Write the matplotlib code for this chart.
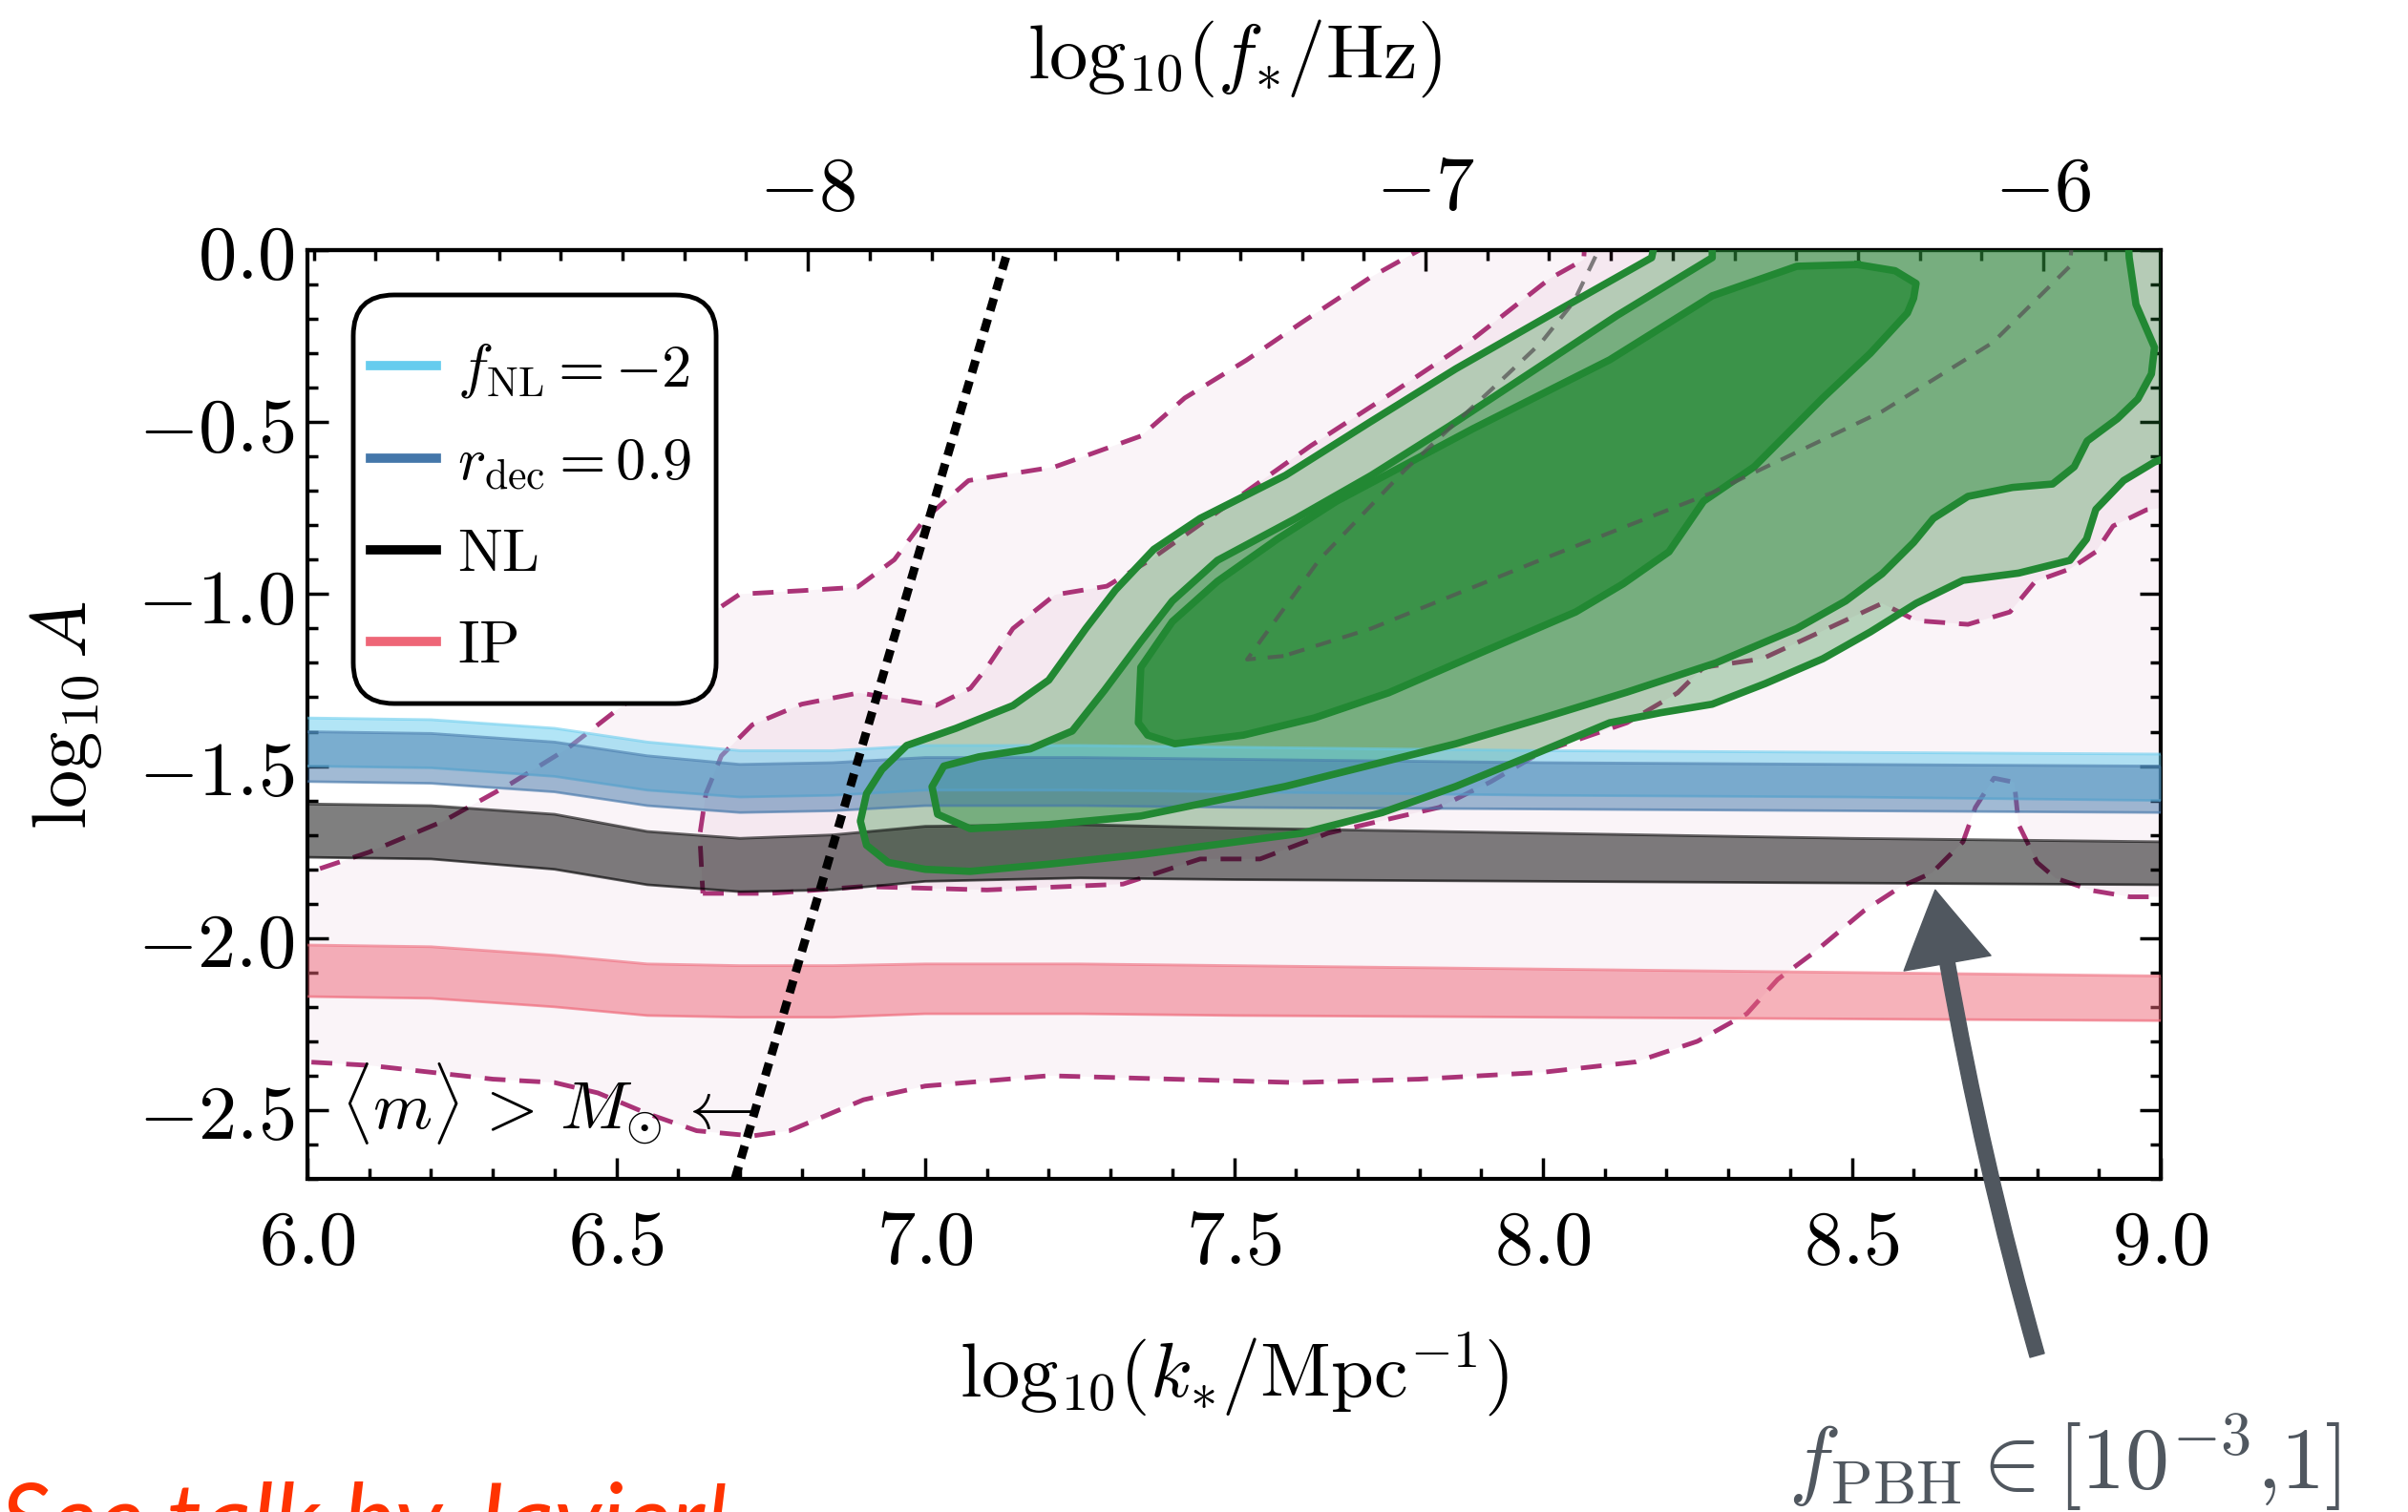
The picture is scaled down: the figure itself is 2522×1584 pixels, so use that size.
import numpy as np
import matplotlib
matplotlib.use('Agg')
import matplotlib.pyplot as plt
from matplotlib.ticker import MultipleLocator, FuncFormatter, FixedLocator
from matplotlib.patches import FancyBboxPatch
from matplotlib.lines import Line2D

plt.rcParams['mathtext.fontset'] = 'cm'
plt.rcParams['font.family'] = ['DejaVu Serif']

# ---------------- data ----------------
band_x = [6.0, 6.2, 6.4, 6.55, 6.7, 6.85, 7.0, 7.25, 7.5, 8.0, 8.5, 9.0]
fnl_hi = [-1.36, -1.365, -1.39, -1.43, -1.455, -1.455, -1.44, -1.44, -1.445, -1.455, -1.46, -1.465]
fnl_lo = [-1.50, -1.505, -1.53, -1.57, -1.59, -1.585, -1.57, -1.57, -1.575, -1.585, -1.59, -1.60]
rdec_hi = [-1.40, -1.405, -1.43, -1.47, -1.495, -1.49, -1.475, -1.475, -1.48, -1.49, -1.495, -1.50]
rdec_lo = [-1.545, -1.55, -1.575, -1.615, -1.635, -1.63, -1.615, -1.615, -1.62, -1.625, -1.63, -1.635]
nl_hi = [-1.61, -1.615, -1.64, -1.69, -1.71, -1.70, -1.675, -1.67, -1.68, -1.695, -1.71, -1.72]
nl_lo = [-1.765, -1.77, -1.80, -1.845, -1.865, -1.86, -1.835, -1.825, -1.83, -1.835, -1.84, -1.845]
ip_hi = [-2.02, -2.025, -2.05, -2.075, -2.08, -2.08, -2.075, -2.075, -2.08, -2.09, -2.10, -2.11]
ip_lo = [-2.17, -2.175, -2.20, -2.225, -2.23, -2.23, -2.22, -2.22, -2.225, -2.23, -2.235, -2.24]

# purple (dashed) posterior contours: outer and inner
p95_x = [5.95, 6.0, 6.1, 6.2, 6.3, 6.4, 6.47, 6.55, 6.63, 6.72, 6.78, 6.9, 7.0, 7.2, 7.4, 7.6, 7.8,
         8.0, 8.15, 8.25, 8.33, 8.38, 8.44, 8.52, 8.58, 8.63, 8.68, 8.70, 8.73, 8.763, 8.77, 8.80,
         8.83, 8.89, 8.95, 9.0, 9.1, 9.1, 7.80, 7.80, 7.72, 7.61, 7.52, 7.42, 7.35, 7.21, 7.07,
         7.0, 6.95, 6.89, 6.80, 6.70, 6.65, 6.60, 6.55, 6.495, 6.42, 6.33, 6.22, 6.10, 6.0, 5.95]
p95_y = [-2.36, -2.36, -2.37, -2.39, -2.41, -2.42, -2.45, -2.51, -2.56, -2.575, -2.56, -2.47, -2.43,
         -2.40, -2.41, -2.42, -2.41, -2.39, -2.36, -2.30, -2.22, -2.12, -2.04, -1.92, -1.85, -1.81,
         -1.72, -1.62, -1.535, -1.547, -1.67, -1.78, -1.826, -1.862, -1.88, -1.88, -1.88, 0.1, 0.1,
         0.0, -0.08, -0.21, -0.32, -0.43, -0.54, -0.63, -0.67, -0.78, -0.90, -0.98, -0.99, -1.0,
         -1.06, -1.18, -1.27, -1.345, -1.45, -1.55, -1.66, -1.75, -1.81, -1.81]

p68_x = [6.64, 6.75, 6.9, 7.1, 7.32, 7.445, 7.542, 7.652, 7.832, 7.915, 7.997, 8.136, 8.218, 8.26,
         8.355, 8.549, 8.604, 8.688, 8.756, 8.797, 8.853, 8.895, 8.923, 8.977, 9.0, 9.1, 9.1, 8.07,
         8.066, 8.011, 7.887, 7.762, 7.624, 7.363, 7.294, 7.21, 7.142, 7.10, 7.073, 7.017, 6.893,
         6.80, 6.72, 6.67, 6.645, 6.635, 6.64]
p68_y = [-1.87, -1.87, -1.85, -1.86, -1.843, -1.77, -1.77, -1.695, -1.62, -1.546, -1.46, -1.374,
         -1.287, -1.213, -1.188, -1.027, -1.077, -1.088, -1.052, -0.963, -0.927, -0.877, -0.802,
         -0.755, -0.75, -0.75, 0.1, 0.1, -0.028, -0.083, -0.258, -0.408, -0.569, -0.902, -0.977,
         -1.002, -1.10, -1.213, -1.274, -1.324, -1.287, -1.32, -1.38, -1.47, -1.58, -1.70, -1.87]

# green (solid) posterior contours
ga_x = [8.19, 8.176, 8.02, 7.859, 7.72, 7.583, 7.445, 7.37, 7.308, 7.26, 7.20, 7.142, 7.05, 6.97,
        6.93, 6.905, 6.895, 6.905, 6.94, 7.00, 7.073, 7.20, 7.349, 7.610, 7.74, 7.859, 7.98, 8.108,
        8.19, 8.274, 8.36, 8.453, 8.53, 8.604, 8.68, 8.770, 8.853, 8.88, 8.895, 8.94, 8.99, 9.1, 9.1]
ga_y = [0.1, -0.022, -0.18, -0.345, -0.50, -0.655, -0.780, -0.87, -0.988, -1.10, -1.25, -1.324,
        -1.39, -1.44, -1.51, -1.58, -1.66, -1.73, -1.78, -1.80, -1.806, -1.785, -1.757, -1.695,
        -1.635, -1.559, -1.47, -1.374, -1.345, -1.32, -1.26, -1.188, -1.11, -1.027, -0.96, -0.939,
        -0.902, -0.84, -0.754, -0.67, -0.616, -0.55, 0.1]
gb_x = [8.274, 8.274, 8.12, 7.969, 7.85, 7.722, 7.60, 7.473, 7.40, 7.349, 7.29, 7.238, 7.17, 7.087,
        7.03, 7.011, 7.02, 7.073, 7.20, 7.349, 7.583, 7.859, 8.0, 8.136, 8.28, 8.411, 8.49, 8.549,
        8.60, 8.632, 8.688, 8.76, 8.825, 8.86, 8.881, 8.93, 8.963, 8.985, 8.99, 8.97, 8.96, 8.949,
        8.945]
gb_y = [0.1, -0.022, -0.19, -0.369, -0.51, -0.655, -0.78, -0.902, -1.02, -1.138, -1.28, -1.398,
        -1.45, -1.473, -1.50, -1.56, -1.64, -1.682, -1.67, -1.645, -1.559, -1.435, -1.36, -1.285,
        -1.20, -1.10, -1.02, -0.941, -0.85, -0.78, -0.716, -0.69, -0.68, -0.63, -0.555, -0.49,
        -0.433, -0.36, -0.283, -0.20, -0.158, -0.022, 0.1]
gc_x = [8.509, 8.57, 8.604, 8.60, 8.590, 8.53, 8.453, 8.342, 8.26, 8.204, 8.13, 8.053, 7.90, 7.75,
        7.63, 7.515, 7.404, 7.36, 7.345, 7.349, 7.40, 7.473, 7.57, 7.666, 7.887, 8.108, 8.274,
        8.411, 8.509]
gc_y = [-0.042, -0.06, -0.097, -0.14, -0.183, -0.30, -0.43, -0.630, -0.73, -0.877, -0.97, -1.052,
        -1.17, -1.287, -1.36, -1.41, -1.435, -1.41, -1.374, -1.213, -1.08, -0.963, -0.84, -0.73,
        -0.519, -0.319, -0.133, -0.047, -0.042]

# grey dashed contour
gd_x = [7.58, 7.521, 7.638, 7.776, 7.915, 7.997, 8.05, 8.09, 8.09, 8.86, 8.853, 8.728, 8.549, 8.274,
        7.997, 7.722, 7.58]
gd_y = [-1.18, -1.19, -0.90, -0.64, -0.408, -0.269, -0.15, 0.0, 0.1, 0.1, -0.047, -0.269, -0.469,
        -0.705, -0.90, -1.10, -1.18]

# mass bound line <m> > M_sun
mass_x = [6.692, 7.134]
mass_y = [-2.7, 0.0]

# arrow (annotation) and labels
arrow_tip = (8.635, -1.86)
arrow_tail = (8.80, -3.213)
legend_labels = [r'$f_{\mathrm{NL}} = -2$', r'$r_{\mathrm{dec}} = 0.9$', r'$\mathrm{NL}$', r'$\mathrm{IP}$']
top_ticks = [-8, -7, -6]
k_to_f_offset = 14.81

C_CYAN, C_BLUE, C_BLACK, C_RED = '#66CCEE', '#4477AA', '#000000', '#EE6677'
C_GREEN, C_PURPLE = '#228833', '#AA3377'

# ---------------- figure ----------------
fig = plt.figure(figsize=(25.22, 15.84), dpi=100)
ax = fig.add_axes([0.1277, 0.2203, 0.7696, 0.6143])
ax.set_xlim(6, 9)
ax.set_ylim(-2.7, 0)

# purple contours
ax.fill(p95_x, p95_y, color=C_PURPLE, alpha=0.05, lw=0, zorder=1)
ax.fill(p68_x, p68_y, color=C_PURPLE, alpha=0.06, lw=0, zorder=1)
ax.plot(p95_x, p95_y, color=C_PURPLE, lw=3.5, dashes=(4.5, 3), zorder=2)
ax.plot(p68_x, p68_y, color=C_PURPLE, lw=3.5, dashes=(4.5, 3), zorder=2)

# green contours
ax.fill(ga_x, ga_y, color=C_GREEN, alpha=0.30, lw=0, zorder=3)
ax.fill(gb_x, gb_y, color=C_GREEN, alpha=0.42, lw=0, zorder=3)
ax.fill(gc_x, gc_y, color=C_GREEN, alpha=0.70, lw=0, zorder=3)

# bands
for lo, hi, col, a in [(ip_lo, ip_hi, C_RED, 0.5), (nl_lo, nl_hi, C_BLACK, 0.5),
                       (fnl_lo, fnl_hi, C_CYAN, 0.5), (rdec_lo, rdec_hi, C_BLUE, 0.5)]:
    ax.fill_between(band_x, lo, hi, color=col, alpha=a, lw=0, zorder=4)
    ax.plot(band_x, lo, color=col, lw=2, alpha=0.6, zorder=4)
    ax.plot(band_x, hi, color=col, lw=2, alpha=0.6, zorder=4)

# green lines
for gx, gy in [(ga_x, ga_y), (gb_x, gb_y), (gc_x, gc_y)]:
    ax.plot(gx, gy, color=C_GREEN, lw=5.5, zorder=5, solid_joinstyle='round')
ax.plot(gd_x, gd_y, color='#555555', alpha=0.75, lw=3, dashes=(4, 3), zorder=5)

# mass line
ax.plot(mass_x, mass_y, color='black', lw=6.5, dashes=(1.5, 1.0), zorder=6)
ax.text(6.054, -2.48, r'$\langle m\rangle\,>\,M_{\odot}\,\leftarrow$', fontsize=51,
        va='center', ha='left', zorder=7)

# arrow annotation
ax.annotate('', xy=arrow_tip, xytext=arrow_tail, xycoords='data', annotation_clip=False,
            arrowprops=dict(arrowstyle='simple,head_length=0.8,head_width=0.95,tail_width=0.16',
                            mutation_scale=70, color='#50575f', shrinkA=0, shrinkB=0,
                            connectionstyle='arc3,rad=-0.03', joinstyle='round'), zorder=8)

# ticks
fmt = FuncFormatter(lambda v, p: r'$%.1f$' % (0.0 if abs(v) < 1e-9 else v))
ax.xaxis.set_major_locator(MultipleLocator(0.5))
ax.xaxis.set_minor_locator(MultipleLocator(0.1))
ax.yaxis.set_major_locator(MultipleLocator(0.5))
ax.yaxis.set_minor_locator(MultipleLocator(0.1))
ax.xaxis.set_major_formatter(fmt)
ax.yaxis.set_major_formatter(fmt)
ax.tick_params(which='both', direction='in', right=True, top=False, width=2.5)
ax.tick_params(which='major', length=16)
ax.tick_params(which='minor', length=8)
ax.tick_params(axis='x', labelsize=58, pad=20)
ax.tick_params(axis='y', labelsize=58, pad=10)
for s in ax.spines.values():
    s.set_linewidth(3)

sec = ax.secondary_xaxis('top', functions=(lambda k: k - k_to_f_offset, lambda f: f + k_to_f_offset))
sec.xaxis.set_major_locator(FixedLocator(top_ticks))
sec.xaxis.set_minor_locator(MultipleLocator(0.1))
sec.xaxis.set_major_formatter(FuncFormatter(lambda v, p: r'$%d$' % round(v)))
sec.tick_params(which='both', direction='in', width=2.5, labelsize=58, pad=18)
sec.tick_params(which='major', length=16)
sec.tick_params(which='minor', length=8)
sec.spines['top'].set_linewidth(3)

ax.set_xlabel(r'$\mathrm{log}_{10}(k_{\mathrm{*}}/\mathrm{Mpc}^{-1})$', fontsize=58, labelpad=38)
sec.set_xlabel(r'$\mathrm{log}_{10}(f_{\mathrm{*}}/\mathrm{Hz})$', fontsize=58, labelpad=56)
ax.set_ylabel(r'$\log_{10} A$', fontsize=58, labelpad=25)

# legend
frame = FancyBboxPatch((0.0247, 0.5118), 0.2205 - 0.0247, 0.9517 - 0.5118,
                       boxstyle='round,pad=0,rounding_size=0.022', mutation_aspect=1.995,
                       transform=ax.transAxes, facecolor='white', edgecolor='black', lw=3.5,
                       zorder=10)
ax.add_patch(frame)
handles = [Line2D([], [], color=c, lw=7) for c in [C_CYAN, C_BLUE, C_BLACK, C_RED]]
leg = ax.legend(handles, legend_labels, loc='upper left', bbox_to_anchor=(0.034, 0.903),
                frameon=False, fontsize=45, handlelength=1.1, handletextpad=0.35,
                labelspacing=0.56, borderpad=0, borderaxespad=0)
leg.set_zorder(11)

# annotation texts
fig.text(1873 / 2522, 1 - 1560 / 1584, r'$f_{\mathrm{PBH}} \in [10^{-3}{,}1]$', fontsize=66,
         color='#50575f', ha='left', va='baseline')
fig.text(0.0, 1 - 1552 / 1584, 'See talk by Javier!', fontsize=74, color='#ff3300',
         family=['Lato', 'DejaVu Sans'], style='italic', ha='left', va='top')

fig.savefig('out.png', dpi=100)
